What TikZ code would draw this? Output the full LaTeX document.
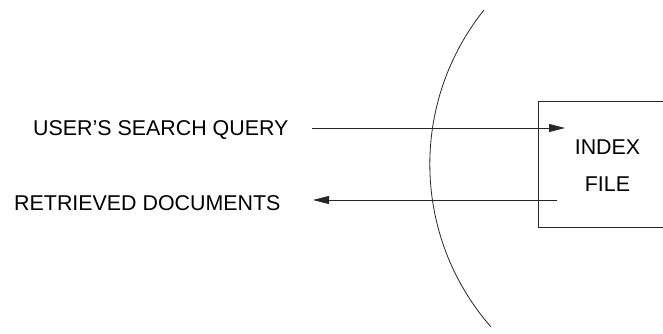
\documentclass[tikz,border=0pt]{standalone}
\usepackage{fontspec}
\setmainfont{Liberation Sans}
\usetikzlibrary{arrows.meta}
\begin{document}
\begin{tikzpicture}[x=1pt,y=-1pt,
  lbl/.style={inner sep=0pt,font=\fontsize{21.4pt}{25pt}\selectfont},
  ln/.style={line width=0.8pt,draw=black!85},
  arr/.style={ln,-{Triangle[length=16pt,width=8pt]}}]
\useasboundingbox (0,0) rectangle (663,334);
% texts
\node[lbl,anchor=west] (query) at (33,130.5) {USER’S SEARCH QUERY};
\node[lbl,anchor=west] (retr) at (14,203) {RETRIEVED DOCUMENTS};
\node[lbl,align=center] (index) at (607.5,166) {INDEX\\[12pt]FILE};
% index box (open on the right)
\coordinate (bTR) at (664,101.5);
\coordinate (bTL) at (538,101.5);
\coordinate (bBL) at (538,227);
\coordinate (bBR) at (664,227);
\draw[ln] (bTR) -- (bTL) -- (bBL) -- (bBR);
% arrows
\coordinate (q0) at (312,128);
\coordinate (q1) at (565,128);
\coordinate (r0) at (557,200);
\coordinate (r1) at (313,200);
\draw[arr] (q0) -- (q1);
\draw[arr] (r0) -- (r1);
% boundary arc
\coordinate (arcA) at (484,10);
\draw[ln] (arcA) arc[start angle=-141.3,end angle=-221.2,radius=246.8];
\end{tikzpicture}
\end{document}
